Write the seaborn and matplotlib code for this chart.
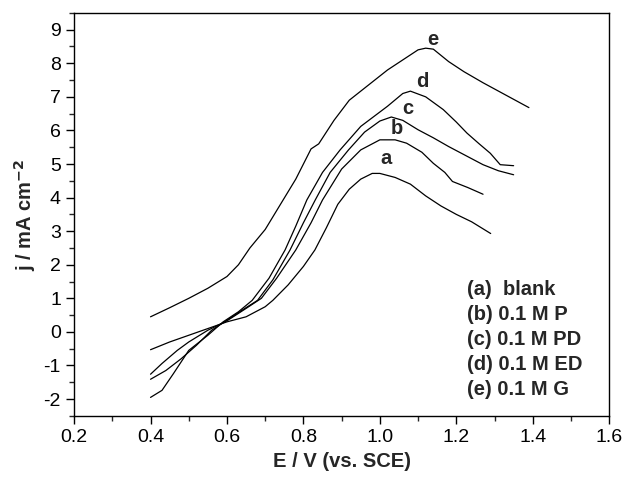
import pandas as pd
import matplotlib
matplotlib.use("Agg")
import matplotlib.pyplot as plt
import seaborn as sns
from matplotlib.ticker import MultipleLocator

# curve data (E in V vs SCE, j in mA cm^-2)
a_E = [0.40, 0.45, 0.50, 0.55, 0.60, 0.65, 0.70, 0.72, 0.76, 0.80, 0.83, 0.86, 0.89, 0.92, 0.95, 0.98, 1.00,
       1.04, 1.08, 1.12, 1.16, 1.20, 1.24, 1.29]
a_j = [-0.53, -0.30, -0.10, 0.10, 0.30, 0.45, 0.75, 0.94, 1.40, 1.95, 2.44, 3.10, 3.80, 4.25, 4.55, 4.72, 4.72,
       4.60, 4.40, 4.05, 3.75, 3.50, 3.28, 2.93]

b_E = [0.40, 0.43, 0.47, 0.50, 0.55, 0.60, 0.65, 0.69, 0.73, 0.78, 0.82, 0.85, 0.90, 0.95, 1.00, 1.04, 1.07,
       1.11, 1.14, 1.17, 1.19, 1.23, 1.27]
b_j = [-1.26, -0.94, -0.55, -0.30, 0.05, 0.33, 0.70, 1.00, 1.60, 2.44, 3.25, 3.93, 4.85, 5.42, 5.72, 5.72, 5.62,
       5.35, 5.02, 4.75, 4.48, 4.30, 4.10]

c_E = [0.40, 0.44, 0.48, 0.52, 0.56, 0.60, 0.64, 0.68, 0.72, 0.765, 0.80, 0.831, 0.87, 0.918, 0.96, 1.00, 1.03,
       1.06, 1.10, 1.14, 1.18, 1.22, 1.27, 1.31, 1.35]
c_j = [-1.41, -1.15, -0.80, -0.40, 0.05, 0.35, 0.65, 0.94, 1.55, 2.44, 3.25, 3.93, 4.75, 5.42, 5.95, 6.28, 6.40,
       6.30, 6.02, 5.78, 5.52, 5.28, 4.98, 4.80, 4.68]

d_E = [0.40, 0.43, 0.46, 0.50, 0.55, 0.59, 0.63, 0.666, 0.71, 0.752, 0.78, 0.809, 0.85, 0.896, 0.95, 1.02, 1.06,
       1.08, 1.12, 1.166, 1.20, 1.228, 1.26, 1.289, 1.315, 1.35]
d_j = [-1.95, -1.74, -1.24, -0.55, -0.10, 0.30, 0.60, 0.94, 1.60, 2.44, 3.15, 3.93, 4.75, 5.42, 6.12, 6.72, 7.10,
       7.17, 7.00, 6.62, 6.25, 5.92, 5.60, 5.32, 4.98, 4.95]

e_E = [0.40, 0.45, 0.50, 0.55, 0.60, 0.63, 0.66, 0.70, 0.74, 0.78, 0.80, 0.82, 0.84, 0.88, 0.92, 0.97, 1.02,
       1.06, 1.10, 1.12, 1.14, 1.18, 1.22, 1.27, 1.33, 1.39]
e_j = [0.45, 0.72, 1.00, 1.30, 1.65, 2.00, 2.50, 3.05, 3.80, 4.55, 5.00, 5.45, 5.60, 6.30, 6.90, 7.35, 7.80,
       8.10, 8.40, 8.45, 8.42, 8.05, 7.75, 7.42, 7.05, 6.68]

curve_letters = ['a', 'b', 'c', 'd', 'e']
label_pos = [(1.015, 5.15), (1.045, 6.05), (1.074, 6.65), (1.11, 7.45), (1.14, 8.70)]
legend_lines = ['(a)  blank', '(b) 0.1 M P', '(c) 0.1 M PD', '(d) 0.1 M ED', '(e) 0.1 M G']

sns.set_theme(style="ticks")
plt.rcParams['font.family'] = ['Liberation Sans', 'DejaVu Sans']
plt.rcParams['axes.unicode_minus'] = False

fig = plt.figure(figsize=(6.28, 4.78), dpi=100)
ax = fig.add_axes([0.118, 0.130, 0.852, 0.843])

for E, j in [(a_E, a_j), (b_E, b_j), (c_E, c_j), (d_E, d_j), (e_E, e_j)]:
    sns.lineplot(x=E, y=j, ax=ax, color='black', linewidth=0.9, sort=False, estimator=None)

for letter, (x, y) in zip(curve_letters, label_pos):
    ax.text(x, y, letter, fontsize=14.5, fontweight='bold', ha='center', va='center')

for i, txt in enumerate(legend_lines):
    ax.text(0.735, 0.3127 - i * 0.062, txt, transform=ax.transAxes, fontsize=14.5,
            fontweight='bold', ha='left', va='center')

ax.set_xlim(0.2, 1.6)
ax.set_ylim(-2.5, 9.5)
ax.xaxis.set_major_locator(MultipleLocator(0.2))
ax.xaxis.set_minor_locator(MultipleLocator(0.1))
ax.yaxis.set_major_locator(MultipleLocator(1))
ax.yaxis.set_minor_locator(MultipleLocator(0.5))
ax.set_xticklabels([f'{v:.1f}' for v in ax.get_xticks()])
ax.tick_params(which='major', direction='out', length=6, width=1, labelsize=14, colors='black')
ax.tick_params(which='minor', direction='out', length=3.5, width=1)
for s in ax.spines.values():
    s.set_linewidth(1)
    s.set_color('black')

ax.set_xlabel('E / V (vs. SCE)', fontsize=14.5, fontweight='bold', labelpad=4)
ax.set_ylabel('j / mA cm$^{\\mathbf{-2}}$', fontsize=14.5, fontweight='bold', labelpad=4)

fig.savefig('out.png', dpi=100)
